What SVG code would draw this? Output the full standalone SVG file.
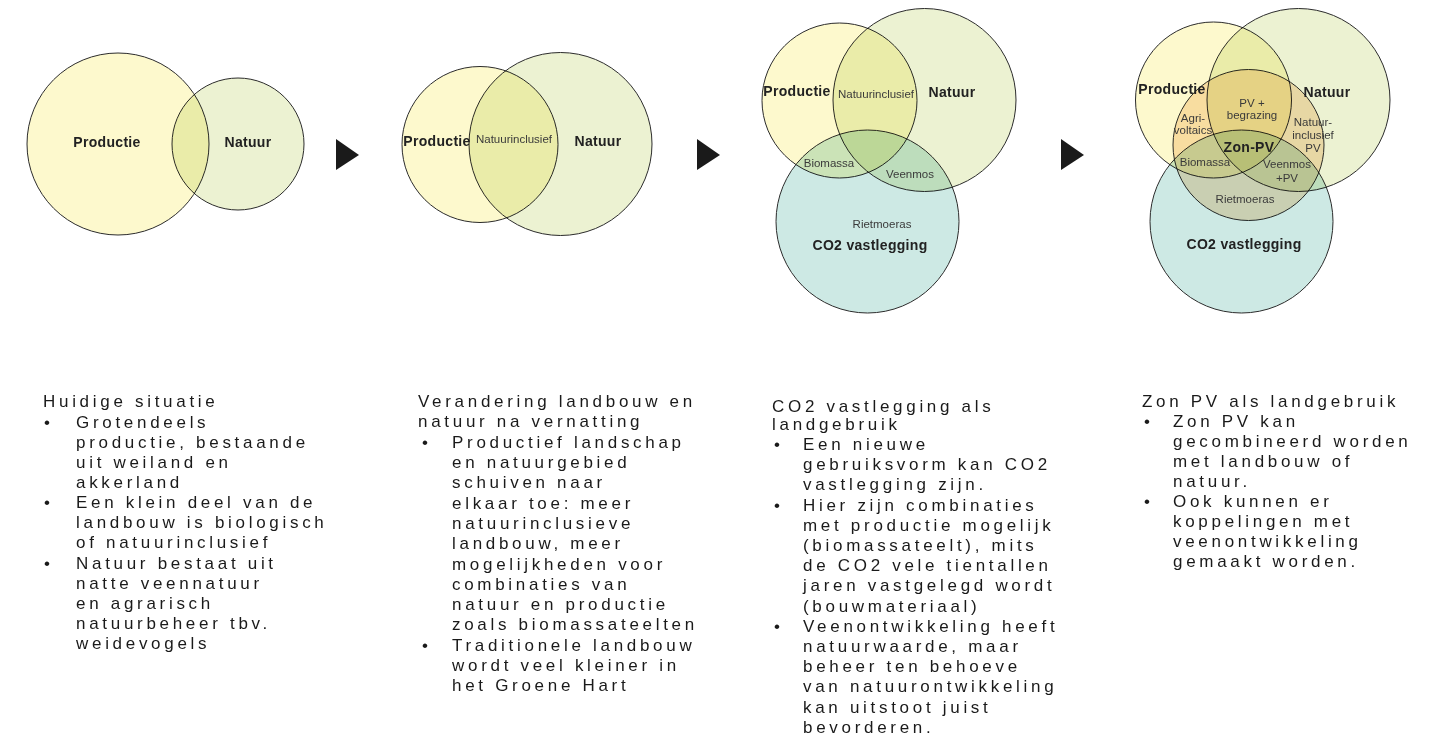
<svg xmlns="http://www.w3.org/2000/svg" width="1442" height="740" viewBox="0 0 1442 740">
<style>
.venn{isolation:isolate}
.c{mix-blend-mode:multiply;stroke:#2b2b2b;stroke-width:1}
.prod{fill:#fdf9cd}
.nat{fill:#ecf2d2}
.co2{fill:#cde9e4}
.pv{fill:#fae3c7}
.lb{font-family:"Liberation Sans",Arial,sans-serif;font-weight:bold;font-size:14px;fill:#222;text-anchor:middle;letter-spacing:0.3px}
.ls{font-family:"Liberation Sans",Arial,sans-serif;font-size:11.5px;fill:#3a3a3a;text-anchor:middle}
.body{font-family:"Liberation Sans",Arial,sans-serif;font-size:17px;fill:#1a1a1a;letter-spacing:3.7px}
.arrow{fill:#1a1a1a}
</style>
<rect width="1442" height="740" fill="#ffffff"/>

<g id="panel1">
  <g class="venn">
    <circle id="p1-productie" class="c prod" cx="118" cy="144" r="91"/>
    <circle id="p1-natuur" class="c nat" cx="238" cy="144" r="66"/>
  </g>
  <text class="lb" x="107" y="147">Productie</text>
  <text class="lb" x="248" y="147">Natuur</text>
</g>

<g id="panel2">
  <g class="venn">
    <circle id="p2-productie" class="c prod" cx="480" cy="144.5" r="78"/>
    <circle id="p2-natuur" class="c nat" cx="560.5" cy="144" r="91.5"/>
  </g>
  <text class="lb" x="437" y="146">Productie</text>
  <text class="ls" x="514" y="143">Natuurinclusief</text>
  <text class="lb" x="598" y="146">Natuur</text>
</g>

<g id="panel3">
  <g class="venn">
    <circle id="p3-productie" class="c prod" cx="839.5" cy="100.5" r="77.5"/>
    <circle id="p3-natuur" class="c nat" cx="924.5" cy="100" r="91.5"/>
    <circle id="p3-co2" class="c co2" cx="867.5" cy="221.5" r="91.5"/>
  </g>
  <text class="lb" x="797" y="96">Productie</text>
  <text class="ls" x="876" y="98">Natuurinclusief</text>
  <text class="lb" x="952" y="97">Natuur</text>
  <text class="ls" x="829" y="167">Biomassa</text>
  <text class="ls" x="910" y="178">Veenmos</text>
  <text class="ls" x="882" y="228">Rietmoeras</text>
  <text class="lb" x="870" y="250">CO2 vastlegging</text>
</g>

<g id="panel4">
  <g class="venn">
    <circle id="p4-productie" class="c prod" cx="1213.5" cy="100" r="78"/>
    <circle id="p4-natuur" class="c nat" cx="1298.5" cy="100" r="91.5"/>
    <circle id="p4-co2" class="c co2" cx="1241.5" cy="221.5" r="91.5"/>
    <circle id="p4-pv" class="c pv" cx="1248.5" cy="145" r="75.5"/>
  </g>
  <text class="lb" x="1172" y="94">Productie</text>
  <text class="lb" x="1327" y="97">Natuur</text>
  <text class="ls" x="1252" y="107">PV +</text>
  <text class="ls" x="1252" y="119">begrazing</text>
  <text class="ls" x="1193" y="122">Agri-</text>
  <text class="ls" x="1193" y="134">voltaics</text>
  <text class="ls" x="1313" y="126">Natuur-</text>
  <text class="ls" x="1313" y="139">inclusief</text>
  <text class="ls" x="1313" y="152">PV</text>
  <text class="lb" x="1249" y="152">Zon-PV</text>
  <text class="ls" x="1205" y="166">Biomassa</text>
  <text class="ls" x="1287" y="168">Veenmos</text>
  <text class="ls" x="1287" y="182">+PV</text>
  <text class="ls" x="1245" y="203">Rietmoeras</text>
  <text class="lb" x="1244" y="249">CO2 vastlegging</text>
</g>

<g id="connectors">
  <polygon class="arrow" points="336,139 359,155 336,170"/>
  <polygon class="arrow" points="697,139 720,155 697,170"/>
  <polygon class="arrow" points="1061,139 1084,155 1061,170"/>
</g>

<g id="text1" class="body">
  <text x="43" y="407">Huidige situatie</text>
  <text x="44" y="428">•</text>
  <text x="76" y="428">Grotendeels</text>
  <text x="76" y="448">productie, bestaande</text>
  <text x="76" y="468">uit weiland en</text>
  <text x="76" y="488">akkerland</text>
  <text x="44" y="508">•</text>
  <text x="76" y="508">Een klein deel van de</text>
  <text x="76" y="528">landbouw is biologisch</text>
  <text x="76" y="548">of natuurinclusief</text>
  <text x="44" y="569">•</text>
  <text x="76" y="569">Natuur bestaat uit</text>
  <text x="76" y="589">natte veennatuur</text>
  <text x="76" y="609">en agrarisch</text>
  <text x="76" y="629">natuurbeheer tbv.</text>
  <text x="76" y="649">weidevogels</text>
</g>

<g id="text2" class="body">
  <text x="418" y="407">Verandering landbouw en</text>
  <text x="418" y="427">natuur na vernatting</text>
  <text x="422" y="448">•</text>
  <text x="452" y="448">Productief landschap</text>
  <text x="452" y="468">en natuurgebied</text>
  <text x="452" y="488">schuiven naar</text>
  <text x="452" y="509">elkaar toe: meer</text>
  <text x="452" y="529">natuurinclusieve</text>
  <text x="452" y="549">landbouw, meer</text>
  <text x="452" y="570">mogelijkheden voor</text>
  <text x="452" y="590">combinaties van</text>
  <text x="452" y="610">natuur en productie</text>
  <text x="452" y="630">zoals biomassateelten</text>
  <text x="422" y="651">•</text>
  <text x="452" y="651">Traditionele landbouw</text>
  <text x="452" y="671">wordt veel kleiner in</text>
  <text x="452" y="691">het Groene Hart</text>
</g>

<g id="text3" class="body">
  <text x="772" y="412">CO2 vastlegging als</text>
  <text x="772" y="430">landgebruik</text>
  <text x="774" y="450">•</text>
  <text x="803" y="450">Een nieuwe</text>
  <text x="803" y="470">gebruiksvorm kan CO2</text>
  <text x="803" y="490">vastlegging zijn.</text>
  <text x="774" y="511">•</text>
  <text x="803" y="511">Hier zijn combinaties</text>
  <text x="803" y="531">met productie mogelijk</text>
  <text x="803" y="551">(biomassateelt), mits</text>
  <text x="803" y="571">de CO2 vele tientallen</text>
  <text x="803" y="591">jaren vastgelegd wordt</text>
  <text x="803" y="612">(bouwmateriaal)</text>
  <text x="774" y="632">•</text>
  <text x="803" y="632">Veenontwikkeling heeft</text>
  <text x="803" y="652">natuurwaarde, maar</text>
  <text x="803" y="672">beheer ten behoeve</text>
  <text x="803" y="692">van natuurontwikkeling</text>
  <text x="803" y="713">kan uitstoot juist</text>
  <text x="803" y="733">bevorderen.</text>
</g>

<g id="text4" class="body">
  <text x="1142" y="407">Zon PV als landgebruik</text>
  <text x="1144" y="427">•</text>
  <text x="1173" y="427">Zon PV kan</text>
  <text x="1173" y="447">gecombineerd worden</text>
  <text x="1173" y="467">met landbouw of</text>
  <text x="1173" y="487">natuur.</text>
  <text x="1144" y="507">•</text>
  <text x="1173" y="507">Ook kunnen er</text>
  <text x="1173" y="527">koppelingen met</text>
  <text x="1173" y="547">veenontwikkeling</text>
  <text x="1173" y="567">gemaakt worden.</text>
</g>
</svg>
